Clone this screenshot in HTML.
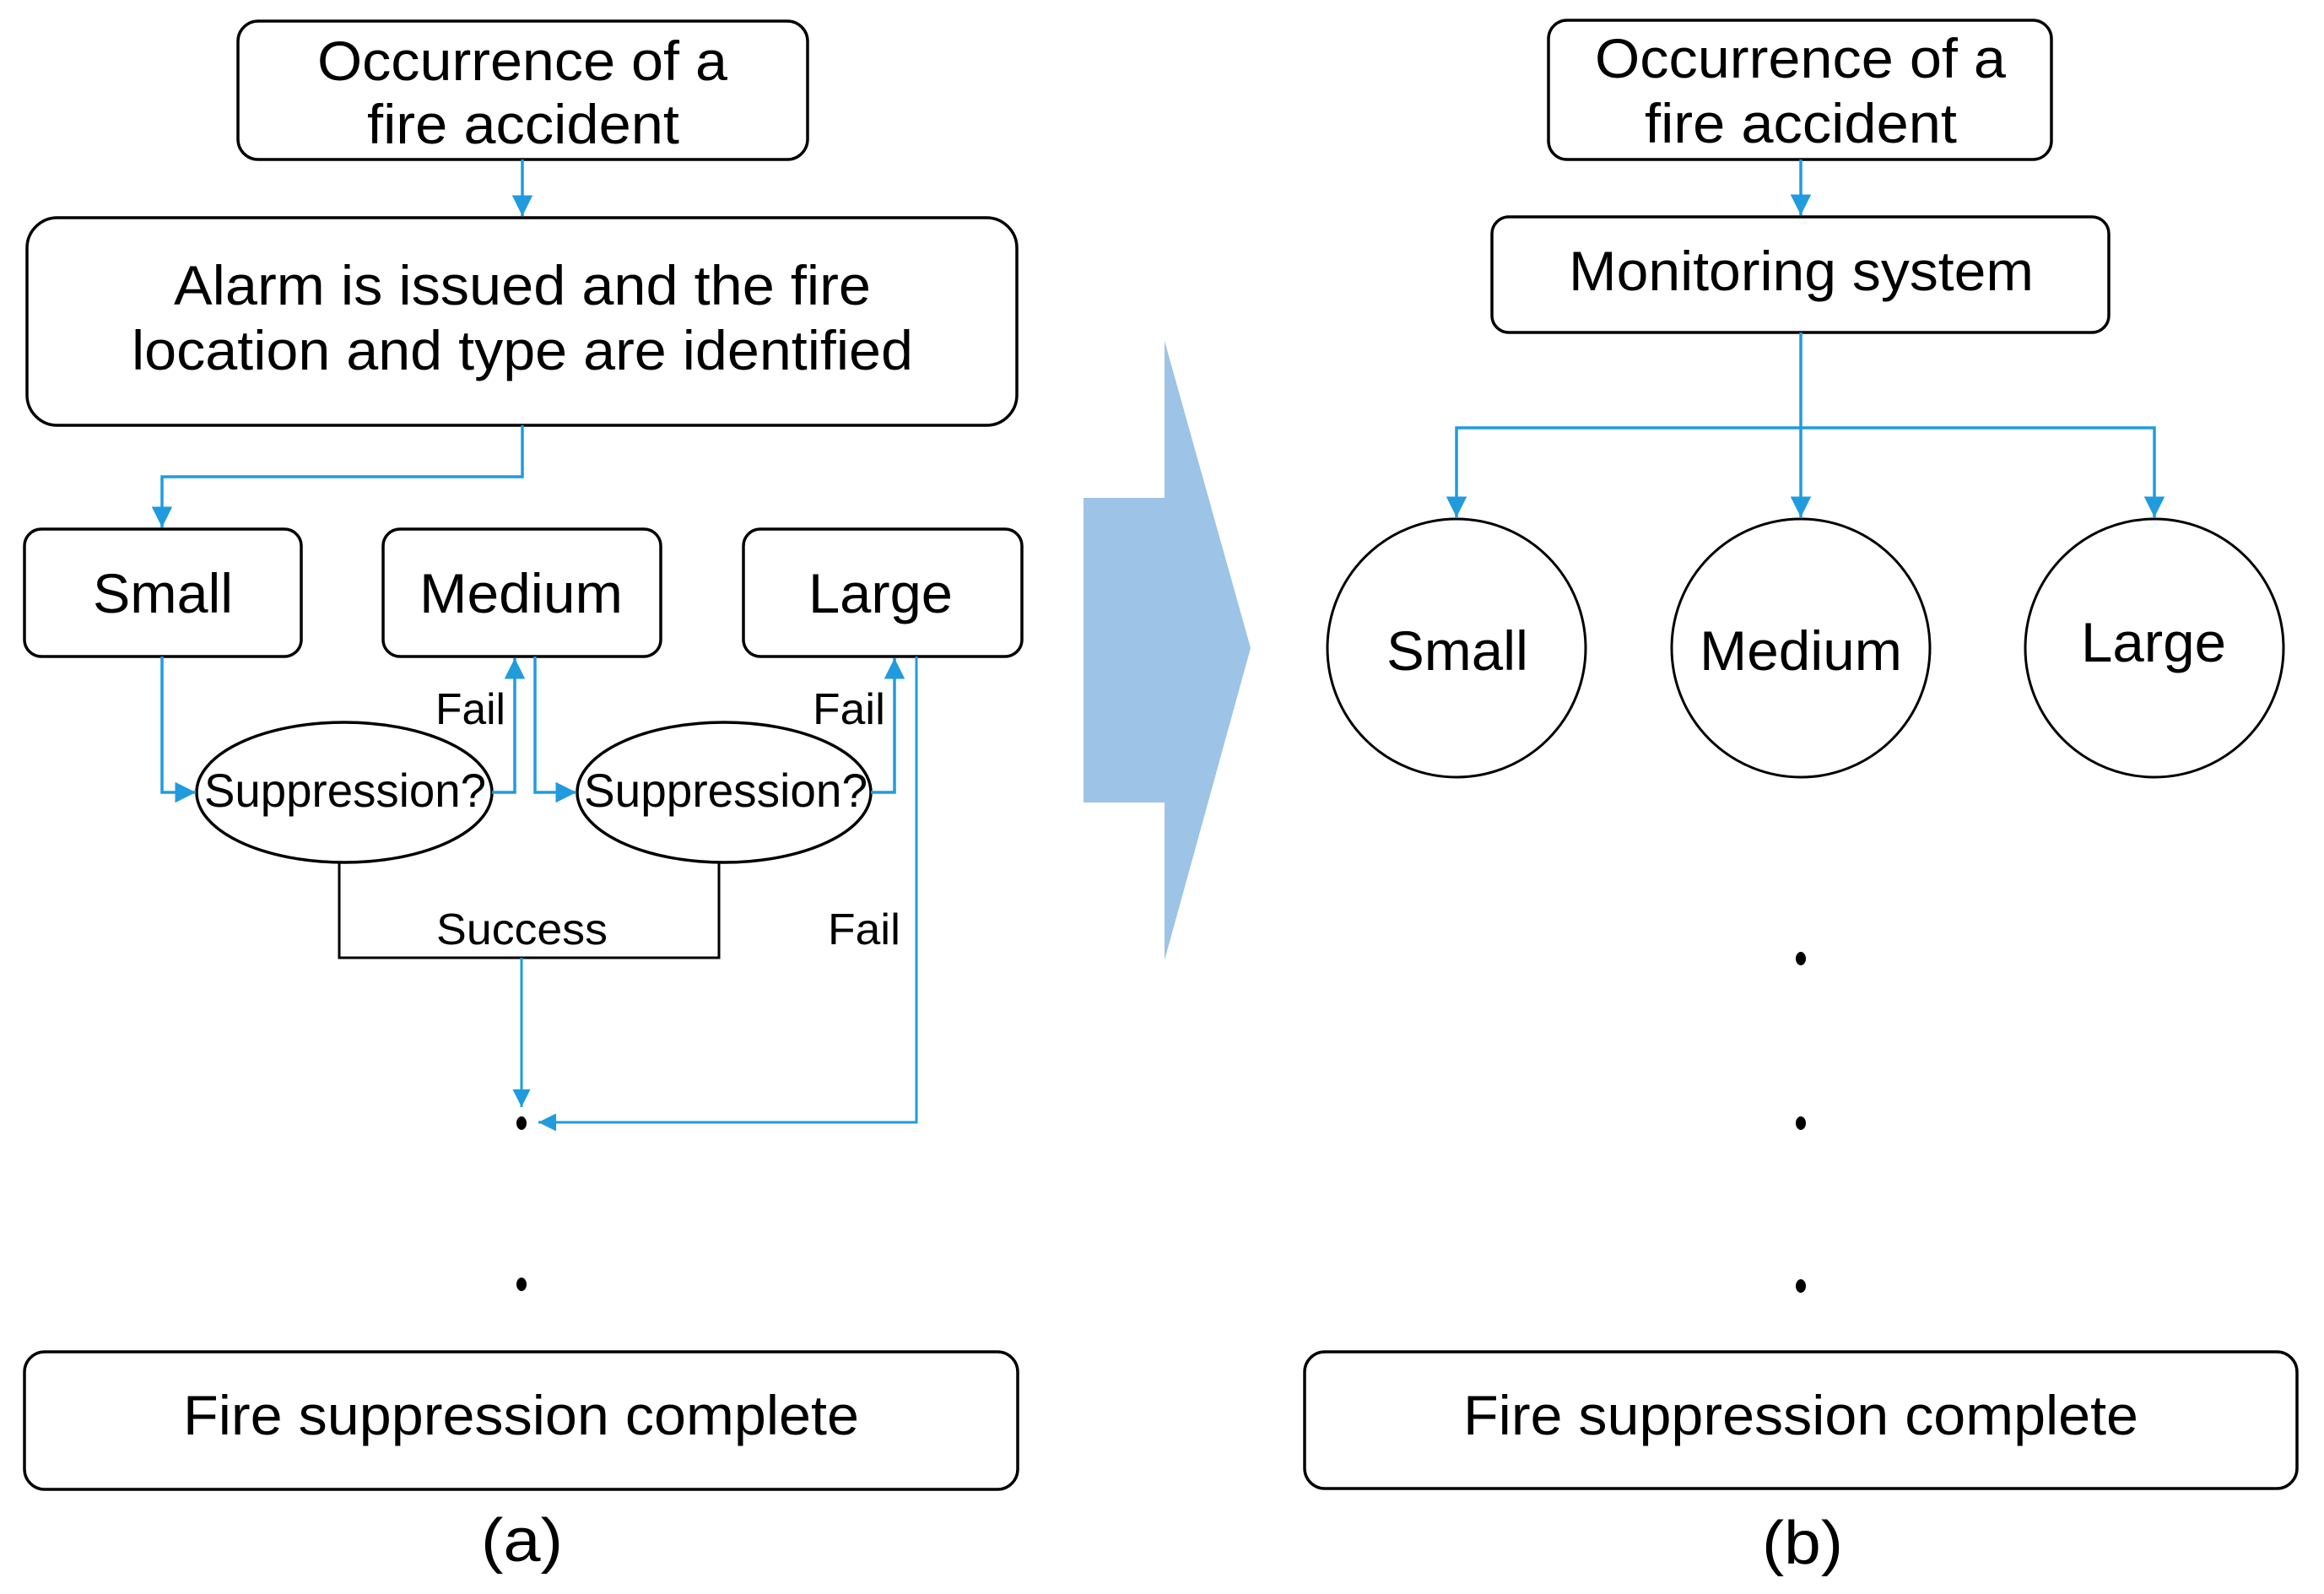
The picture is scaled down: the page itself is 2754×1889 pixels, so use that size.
<!DOCTYPE html>
<html><head><meta charset="utf-8"><style>html,body{margin:0;padding:0;background:#fff}svg{display:block}</style></head>
<body>
<svg width="2754" height="1889" viewBox="0 0 2754 1889" xmlns="http://www.w3.org/2000/svg" font-family="Liberation Sans, Arial, sans-serif" fill="#000">
<defs>
<marker id="a" viewBox="0 0 10 10" refX="10" refY="5" markerWidth="7" markerHeight="7" markerUnits="strokeWidth" orient="auto"><path d="M0,0 L10,5 L0,10 z" fill="#1f9bde"/></marker>
</defs>
<g fill="none" stroke="#000" stroke-width="3.5">
<rect x="282" y="25" width="675" height="164" rx="24"/>
<rect x="32" y="258" width="1173" height="246" rx="36"/>
<rect x="29" y="627" width="328" height="151" rx="20"/>
<rect x="454" y="627" width="329" height="151" rx="20"/>
<rect x="881" y="627" width="330" height="151" rx="20"/>
<ellipse cx="408" cy="939" rx="175" ry="83"/>
<ellipse cx="858" cy="939" rx="174" ry="83"/>
<polyline points="402,1022 402,1135 852,1135 852,1022" stroke-width="3"/>
<rect x="29" y="1602" width="1177" height="163" rx="24"/>
<rect x="1835" y="24" width="596" height="165" rx="22"/>
<rect x="1768" y="257" width="731" height="137" rx="20"/>
<circle cx="1726" cy="768" r="153" stroke-width="3"/>
<circle cx="2134" cy="768" r="153" stroke-width="3"/>
<circle cx="2553" cy="768" r="153" stroke-width="3"/>
<rect x="1546" y="1602" width="1176" height="162" rx="24"/>
</g>
<polygon points="1284,590 1380,590 1380,404 1482,768 1380,1138 1380,951 1284,951" fill="#9dc3e6"/>
<g fill="none" stroke="#1f9bde" stroke-width="3.5" marker-end="url(#a)">
<line x1="619" y1="189" x2="619" y2="256"/>
<polyline points="619,504 619,565 192,565 192,625"/>
<polyline points="192,778 192,939 232,939"/>
<polyline points="583,939 610,939 610,780"/>
<polyline points="634,778 634,939 683,939"/>
<polyline points="1032,939 1060,939 1060,780"/>
<line x1="618" y1="1135" x2="618" y2="1312" stroke-width="3"/>
<polyline points="1086,778 1086,1330 638,1330" stroke-width="3"/>
<line x1="2134" y1="189" x2="2134" y2="255"/>
<line x1="2134" y1="394" x2="2134" y2="613"/>
<polyline points="2134,507 1726,507 1726,613"/>
<polyline points="2134,507 2553,507 2553,613"/>
</g>
<g fill="#000">
<ellipse cx="618" cy="1331" rx="6" ry="8"/>
<ellipse cx="618" cy="1522" rx="6" ry="8"/>
<ellipse cx="2134" cy="1136" rx="6" ry="8"/>
<ellipse cx="2134" cy="1331" rx="6" ry="8"/>
<ellipse cx="2134" cy="1524" rx="6" ry="8"/>
</g>
<g font-size="66" lengthAdjust="spacingAndGlyphs">
<text x="376" y="95" textLength="486" lengthAdjust="spacingAndGlyphs">Occurrence of a</text>
<text x="435" y="170" textLength="370" lengthAdjust="spacingAndGlyphs">fire accident</text>
<text x="206" y="361" textLength="826" lengthAdjust="spacingAndGlyphs">Alarm is issued and the fire</text>
<text x="156" y="438" textLength="926" lengthAdjust="spacingAndGlyphs">location and type are identified</text>
<text x="110" y="726" textLength="166" lengthAdjust="spacingAndGlyphs">Small</text>
<text x="497" y="726" textLength="241" lengthAdjust="spacingAndGlyphs">Medium</text>
<text x="958" y="726" textLength="171" lengthAdjust="spacingAndGlyphs">Large</text>
<text x="217" y="1700" textLength="801" lengthAdjust="spacingAndGlyphs">Fire suppression complete</text>
<text x="1890" y="92" textLength="487" lengthAdjust="spacingAndGlyphs">Occurrence of a</text>
<text x="1949" y="169" textLength="370" lengthAdjust="spacingAndGlyphs">fire accident</text>
<text x="1859" y="344" textLength="551" lengthAdjust="spacingAndGlyphs">Monitoring system</text>
<text x="1643" y="794" textLength="168" lengthAdjust="spacingAndGlyphs">Small</text>
<text x="2014" y="794" textLength="240" lengthAdjust="spacingAndGlyphs">Medium</text>
<text x="2466" y="784" textLength="172" lengthAdjust="spacingAndGlyphs">Large</text>
<text x="1734" y="1700" textLength="800" lengthAdjust="spacingAndGlyphs">Fire suppression complete</text>
</g>
<g font-size="56">
<text x="242" y="956" textLength="334" lengthAdjust="spacingAndGlyphs">Suppression?</text>
<text x="692" y="956" textLength="336" lengthAdjust="spacingAndGlyphs">Suppression?</text>
</g>
<g font-size="52">
<text x="516" y="858" textLength="83" lengthAdjust="spacingAndGlyphs">Fail</text>
<text x="963" y="858" textLength="86" lengthAdjust="spacingAndGlyphs">Fail</text>
<text x="517" y="1119" textLength="203" lengthAdjust="spacingAndGlyphs">Success</text>
<text x="981" y="1119" textLength="86" lengthAdjust="spacingAndGlyphs">Fail</text>
</g>
<g font-size="72">
<text x="570" y="1850" textLength="97" lengthAdjust="spacingAndGlyphs">(a)</text>
<text x="2088" y="1853" textLength="96" lengthAdjust="spacingAndGlyphs">(b)</text>
</g>
</svg>
</body></html>
